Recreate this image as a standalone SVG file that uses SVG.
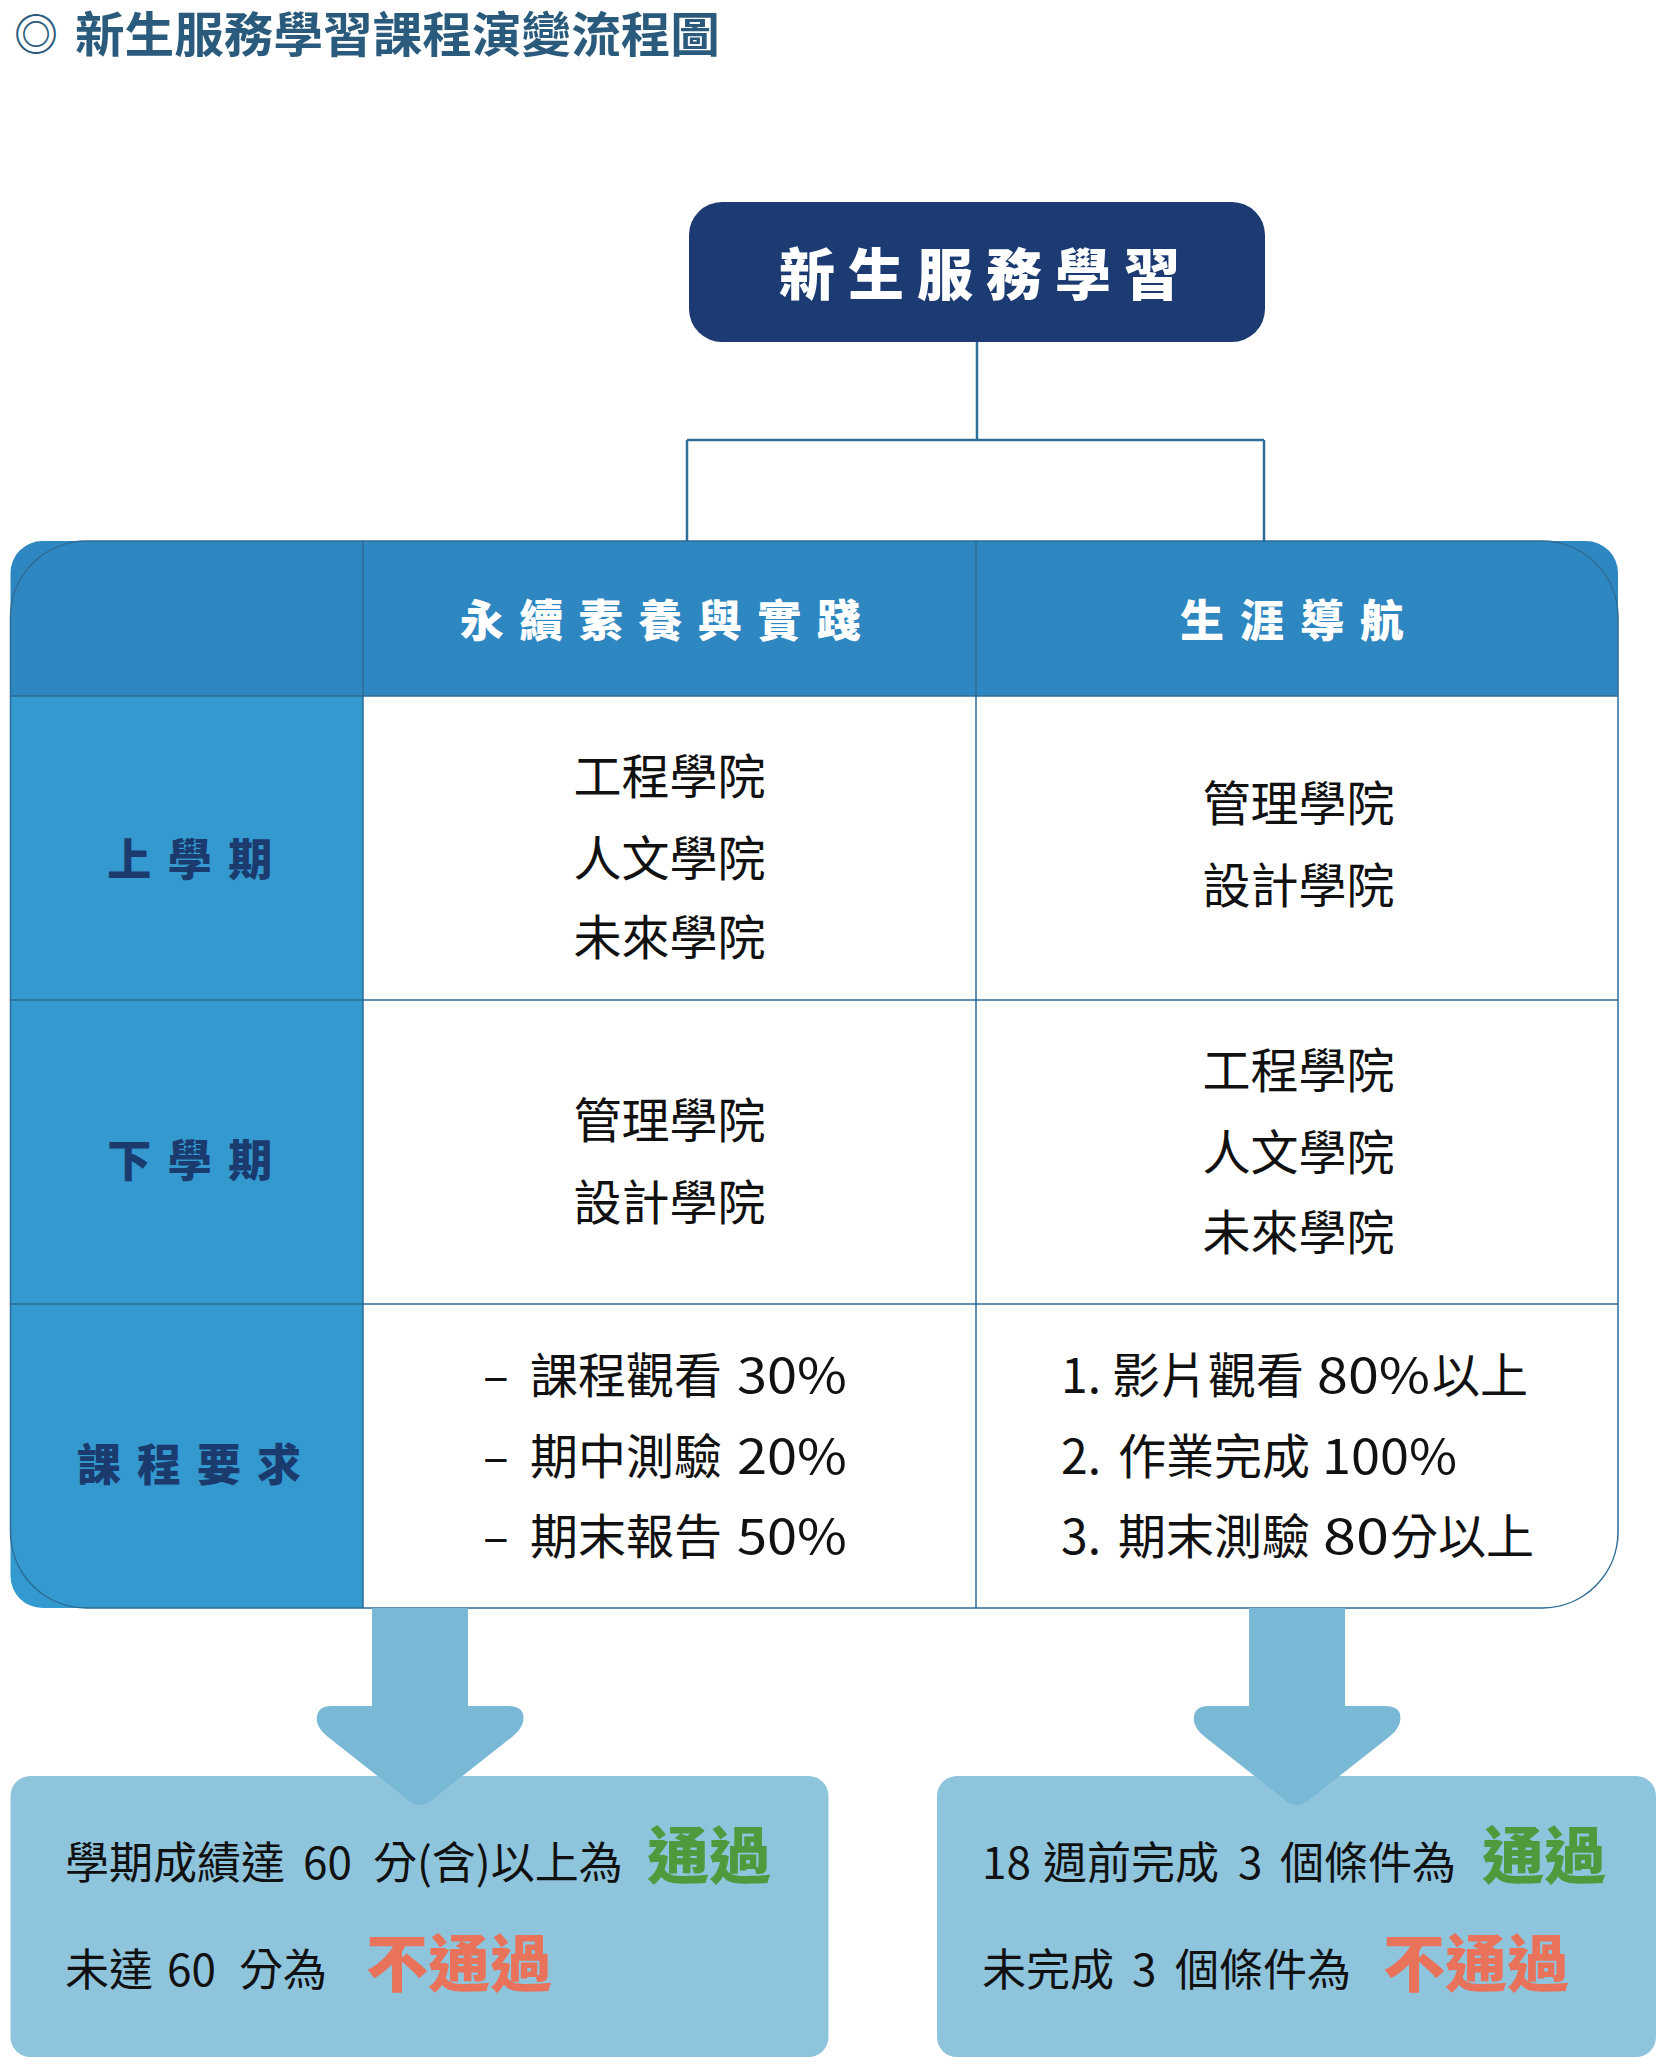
<svg xmlns="http://www.w3.org/2000/svg" width="1667" height="2071" viewBox="0 0 1667 2071">
<defs>
<style>
.sans{font-family:"Noto Sans CJK TC","Noto Sans CJK SC",sans-serif;}
.cell{font-family:"Noto Sans CJK TC",sans-serif;font-size:48px;fill:#111;}
.mid{text-anchor:middle;}
.hd{font-family:"Noto Sans CJK TC",serif;font-weight:900;fill:#fff;font-size:44px;}
.rl{font-family:"Noto Sans CJK TC",serif;font-weight:900;fill:#1b3b6f;font-size:44px;text-anchor:middle;}
.res{font-family:"Noto Sans CJK TC",sans-serif;font-size:44px;fill:#111;}
.pass{font-family:"Noto Sans CJK TC",serif;font-weight:900;font-size:62px;fill:#4e9a3c;}
.fail{font-family:"Noto Sans CJK TC",serif;font-weight:900;font-size:62px;fill:#e8735a;}
.grid{stroke:#2c6c95;stroke-width:1.5;fill:none;}
.conn{stroke:#2e6f97;stroke-width:2.5;fill:none;}
.arrow{fill:#7ab9d6;}
.box{fill:#8fc4dd;}
</style>
</defs>
<rect width="1667" height="2071" fill="#fff"/>

<g id="title">
<text class="sans" x="14" y="51" font-size="44" font-weight="700" fill="#2a5b7c">◎</text>
<text class="sans" x="75" y="52" font-size="48" font-weight="700" fill="#2a5b7c" textLength="645" lengthAdjust="spacingAndGlyphs">新生服務學習課程演變流程圖</text>
</g>

<g id="connectors">
<path class="conn" d="M977,342 V440 M687,440 H1264 M687,440 V541 M1264,440 V541"/>
</g>

<g id="root">
<rect x="689" y="202" width="576" height="140" rx="33" fill="#1b3b72"/>
<text class="hd mid" x="986" y="295" letter-spacing="13" style="font-size:56px">新生服務學習</text>
</g>

<g id="table">
<path d="M10.5,696 V573 A32,32 0 0 1 42.5,541 H1586 A32,32 0 0 1 1618,573 V696 Z" fill="#2e87c1"/>
<path d="M10.5,696 H363 V1608 H42.5 A32,32 0 0 1 10.5,1576 Z" fill="#3399cf"/>
<rect class="grid" x="10.5" y="541" width="1607.5" height="1067" rx="76"/>
<path class="grid" d="M10.5,696 H1618 M10.5,1000 H1618 M10.5,1304 H1618 M363,541 V1608 M976,541 V1608"/>
</g>

<g id="header-col1">
<text class="hd mid" x="668" y="637" letter-spacing="15.5">永續素養與實踐</text>
</g>
<g id="header-col2">
<text class="hd mid" x="1300" y="637" letter-spacing="16">生涯導航</text>
</g>

<g id="row-fall">
<text class="rl" x="198" y="876" letter-spacing="16.5">上學期</text>
<text class="cell mid" x="669.5" y="794">工程學院</text>
<text class="cell mid" x="669.5" y="876">人文學院</text>
<text class="cell mid" x="669.5" y="955">未來學院</text>
<text class="cell mid" x="1298.5" y="821">管理學院</text>
<text class="cell mid" x="1298.5" y="903">設計學院</text>
</g>

<g id="row-spring">
<text class="rl" x="198" y="1177" letter-spacing="16.5">下學期</text>
<text class="cell mid" x="669.5" y="1138">管理學院</text>
<text class="cell mid" x="669.5" y="1220">設計學院</text>
<text class="cell mid" x="1298.5" y="1088">工程學院</text>
<text class="cell mid" x="1298.5" y="1170">人文學院</text>
<text class="cell mid" x="1298.5" y="1250">未來學院</text>
</g>

<g id="row-req">
<text class="rl" x="197" y="1481" letter-spacing="16">課程要求</text>
<text class="cell" y="1393"><tspan x="483">–</tspan><tspan x="530">課程觀看</tspan><tspan x="737" textLength="110" lengthAdjust="spacingAndGlyphs">30%</tspan></text>
<text class="cell" y="1474"><tspan x="483">–</tspan><tspan x="530">期中測驗</tspan><tspan x="737" textLength="110" lengthAdjust="spacingAndGlyphs">20%</tspan></text>
<text class="cell" y="1554"><tspan x="483">–</tspan><tspan x="530">期末報告</tspan><tspan x="737" textLength="110" lengthAdjust="spacingAndGlyphs">50%</tspan></text>
<text class="cell" y="1393"><tspan x="1061">1.</tspan><tspan x="1112">影片觀看</tspan><tspan x="1317" textLength="113" lengthAdjust="spacingAndGlyphs">80%</tspan><tspan x="1432">以上</tspan></text>
<text class="cell" y="1474"><tspan x="1061">2.</tspan><tspan x="1118">作業完成</tspan><tspan x="1322" textLength="135" lengthAdjust="spacingAndGlyphs">100%</tspan></text>
<text class="cell" y="1554"><tspan x="1061">3.</tspan><tspan x="1118">期末測驗</tspan><tspan x="1323" textLength="66" lengthAdjust="spacingAndGlyphs">80</tspan><tspan x="1390">分以上</tspan></text>
</g>

<g id="result-left">
<rect class="box" x="10.5" y="1776" width="818" height="281" rx="20"/>
<text class="res" y="1879"><tspan x="65">學期成績達</tspan><tspan x="303">60</tspan><tspan x="373">分(含)以上為</tspan></text>
<text class="pass" x="647" y="1879">通過</text>
<text class="res" y="1986"><tspan x="65">未達</tspan><tspan x="167">60</tspan><tspan x="239">分為</tspan></text>
<text class="fail" x="366" y="1987">不通過</text>
</g>

<g id="result-right">
<rect class="box" x="937" y="1776" width="719" height="281" rx="20"/>
<text class="res" y="1879"><tspan x="982">18</tspan><tspan x="1043">週前完成</tspan><tspan x="1238">3</tspan><tspan x="1280">個條件為</tspan></text>
<text class="pass" x="1482" y="1879">通過</text>
<text class="res" y="1986"><tspan x="982">未完成</tspan><tspan x="1132">3</tspan><tspan x="1175">個條件為</tspan></text>
<text class="fail" x="1383" y="1987">不通過</text>
</g>

<g id="arrows">
<path class="arrow" d="M372,1608 H468 V1706 H508 Q526,1706 523,1722 Q521,1730 512,1737 L432,1800 Q420,1810 408,1800 L328,1737 Q319,1730 317,1722 Q315,1706 332,1706 H372 Z"/>
<path class="arrow" d="M1249,1608 H1345 V1706 H1385 Q1403,1706 1400,1722 Q1398,1730 1389,1737 L1309,1800 Q1297,1810 1285,1800 L1205,1737 Q1196,1730 1194,1722 Q1192,1706 1209,1706 H1249 Z"/>
</g>
</svg>
